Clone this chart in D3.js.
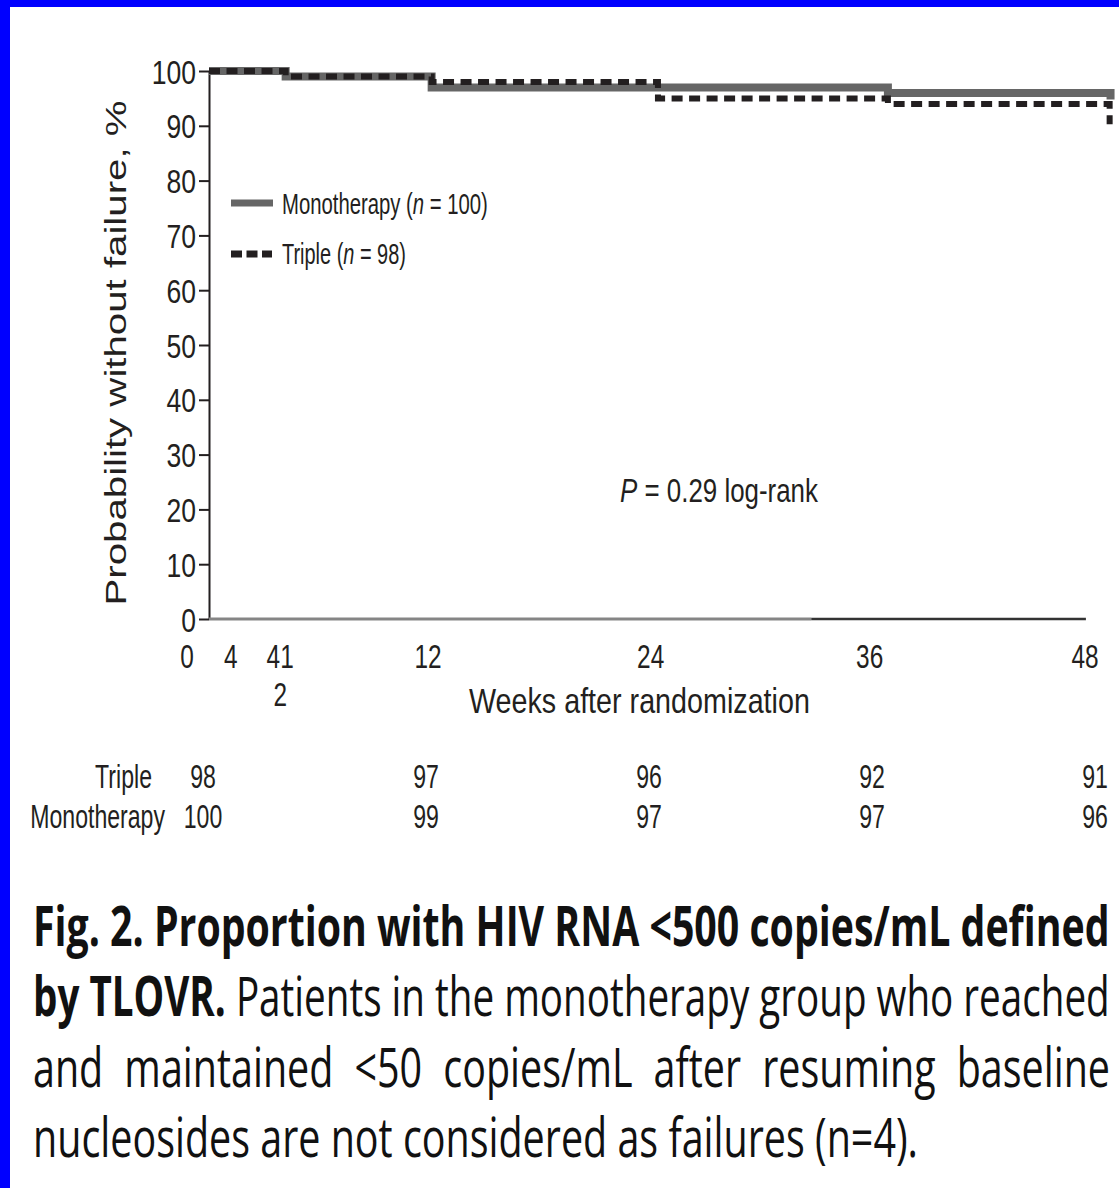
<!DOCTYPE html>
<html>
<head>
<meta charset="utf-8">
<script src="https://cdn.jsdelivr.net/npm/d3@7"></script>
<style>
  body { margin: 0; background: #fff; }
  text { font-family: "Liberation Sans", Arial, Helvetica, sans-serif; fill: #231f20; }
  text.caption { font-family: "Open Sans", "Liberation Sans", sans-serif; fill: #111; }
</style>
</head>
<body>
<script>
// y axis ticks (percent)
var yTicks = [0, 10, 20, 30, 40, 50, 60, 70, 80, 90, 100];

// x tick labels as printed (the "41 / 2" pair is how it appears in the figure)
var xTickLabels = ["0", "4", "41", "12", "24", "36", "48"];
var xTickWeeks = [-1.2, 1.2, 3.9, 12, 24.2, 36.2, 48];
var xSubLabels = ["2"];
var xSubWeeks = [3.9];

// Kaplan-Meier steps
var monoWeeks = [0, 4.2, 12.2, 37.2, 49.4];
var monoPct = [100, 99, 97, 96, 94.8];
var tripleWeeks = [0, 4.2, 12.2, 24.6, 37.2, 49.35];
var triplePct = [100, 99, 98, 95, 94, 90.3];

// numbers at risk
var tableWeeks = [0, 12, 24, 36, 48];
var tripleAtRisk = [98, 97, 96, 92, 91];
var monoAtRisk = [100, 99, 97, 97, 96];

var captionLines = [
  [{t: "Fig. 2. Proportion with HIV RNA <500 copies/mL defined", bold: true}],
  [{t: "by TLOVR.", bold: true}, {t: " Patients in the monotherapy group who reached"}],
  [{t: "and maintained <50 copies/mL after resuming baseline"}],
  [{t: "nucleosides are not considered as failures (n=4)."}]
];

var W = 1119, H = 1188;

var svg = d3.select("body").append("svg")
  .attr("width", W)
  .attr("height", H);

svg.append("rect").attr("width", W).attr("height", H).attr("fill", "#fff");
// blue frame
svg.append("rect").attr("width", W).attr("height", 7).attr("fill", "#0000ff");
svg.append("rect").attr("width", 10).attr("height", H).attr("fill", "#0000ff");

var x = d3.scaleLinear().domain([0, 48]).range([209, 1085]);
var y = d3.scaleLinear().domain([0, 100]).range([619, 71]);
var tx = d3.scaleLinear().domain([0, 48]).range([203, 1095]);

// text helper: squeezes text horizontally (the figure uses a condensed face)
function label(parent, x0, y0, parts, o) {
  var t = parent.append("text")
    .attr("text-anchor", o.anchor || "start")
    .style("font-size", o.size + "px");
  if (o.cls) t.attr("class", o.cls);
  parts.forEach(function(p) {
    if (typeof p === "string") p = {t: p};
    var ts = t.append("tspan").text(p.t);
    if (p.italic) ts.style("font-style", "italic");
    if (p.bold) ts.style("font-weight", "bold");
  });
  var sx = o.sx || 1;
  if (o.width) sx = o.width / t.node().getComputedTextLength();
  t.attr("transform", "translate(" + x0 + "," + y0 + ")" +
    (o.rotate ? " rotate(" + o.rotate + ")" : "") +
    " scale(" + sx + ",1)");
  return t;
}

// Y axis
var yAxis = svg.append("g")
  .attr("transform", "translate(209,0)")
  .call(d3.axisLeft(y).tickValues(yTicks).tickSize(10).tickSizeOuter(0));
yAxis.attr("font-family", null).attr("font-size", null);
yAxis.select(".domain").attr("stroke", "#231f20").attr("stroke-width", 2);
yAxis.selectAll(".tick line").attr("stroke", "#231f20").attr("stroke-width", 2);
yAxis.selectAll(".tick text")
  .attr("x", null).attr("dy", null)
  .style("font-size", "34px")
  .attr("transform", "translate(-13,12) scale(0.78,1)");

// X axis line (lighter on the left part, as in the scan)
svg.append("line")
  .attr("x1", x(0)).attr("x2", x(33)).attr("y1", y(0)).attr("y2", y(0))
  .attr("stroke", "#858585").attr("stroke-width", 3);
svg.append("line")
  .attr("x1", x(33)).attr("x2", x(48.05)).attr("y1", y(0)).attr("y2", y(0))
  .attr("stroke", "#333").attr("stroke-width", 2.5);

xTickLabels.forEach(function(s, i) {
  label(svg, x(xTickWeeks[i]), 668, [s], {size: 33, anchor: "middle", sx: 0.74});
});
xSubLabels.forEach(function(s, i) {
  label(svg, x(xSubWeeks[i]), 706, [s], {size: 33, anchor: "middle", sx: 0.74});
});

// axis titles
label(svg, 469, 713, ["Weeks after randomization"], {size: 35, width: 341});
label(svg, 126, 353, ["Probability without failure, %"], {size: 29, anchor: "middle", rotate: -90, width: 505});

// curves
var stepLine = d3.line()
  .x(function(d) { return x(d[0]); })
  .y(function(d) { return y(d[1]); })
  .curve(d3.curveStepAfter);

svg.append("path")
  .datum(d3.zip(monoWeeks, monoPct))
  .attr("d", stepLine)
  .attr("fill", "none")
  .attr("stroke", "#666")
  .attr("stroke-width", 8);

svg.append("path")
  .datum(d3.zip(tripleWeeks, triplePct))
  .attr("d", stepLine)
  .attr("fill", "none")
  .attr("stroke", "#231f20")
  .attr("stroke-width", 6)
  .attr("stroke-dasharray", "11,6.5");

// legend
svg.append("line").attr("x1", 231).attr("x2", 273).attr("y1", 203).attr("y2", 203)
  .attr("stroke", "#666").attr("stroke-width", 7);
svg.append("line").attr("x1", 231).attr("x2", 272).attr("y1", 254).attr("y2", 254)
  .attr("stroke", "#231f20").attr("stroke-width", 7).attr("stroke-dasharray", "11,4.5");
label(svg, 282, 214, ["Monotherapy (", {t: "n", italic: true}, " = 100)"], {size: 29, width: 206});
label(svg, 282, 264, ["Triple (", {t: "n", italic: true}, " = 98)"], {size: 29, width: 124});

// p-value
label(svg, 620, 502, [{t: "P", italic: true}, " = 0.29 log-rank"], {size: 34, width: 198});

// numbers at risk
label(svg, 152, 788, ["Triple"], {size: 33, anchor: "end", sx: 0.7});
label(svg, 165, 828, ["Monotherapy"], {size: 33, anchor: "end", sx: 0.7});
tableWeeks.forEach(function(wk, i) {
  label(svg, tx(wk), 788, [String(tripleAtRisk[i])], {size: 33, anchor: "middle", sx: 0.7});
  label(svg, tx(wk), 828, [String(monoAtRisk[i])], {size: 33, anchor: "middle", sx: 0.7});
});

// caption (justified block)
var capBase = [946, 1016, 1087, 1157];
var capWidth = [1077, 1077, 1077, 885];
var capSize = 55;
var last = label(svg, 33, capBase[3], captionLines[3], {size: capSize, cls: "caption", width: capWidth[3]});
var sxCap = capWidth[3] / last.node().getComputedTextLength();
captionLines.slice(0, 3).forEach(function(parts, i) {
  var t = label(svg, 33, capBase[i], parts, {size: capSize, cls: "caption", sx: sxCap});
  var len = t.node().getComputedTextLength();
  var spaces = parts.map(function(p) { return p.t; }).join("").split(" ").length - 1;
  var extra = (capWidth[i] / sxCap - len) / spaces;
  if (i === 0 || extra < 0) {
    t.attr("transform", "translate(33," + capBase[i] + ") scale(" + (capWidth[i] / len) + ",1)");
  } else {
    t.style("word-spacing", extra + "px");
  }
});
</script>
</body>
</html>
